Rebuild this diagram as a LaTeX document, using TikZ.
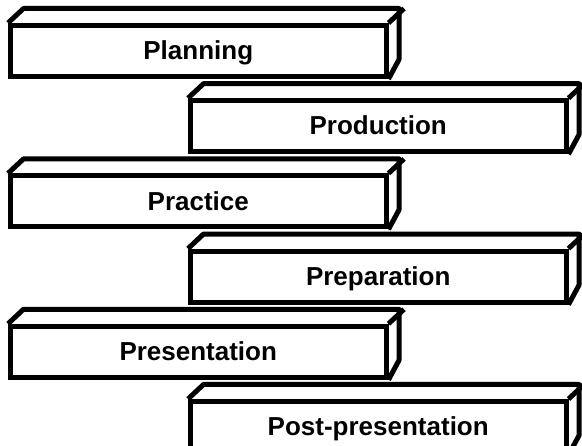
\documentclass[tikz,border=0pt]{standalone}
\usepackage{fontspec}
\setmainfont{Liberation Sans}
\begin{document}
\begin{tikzpicture}[x=1pt, y=-1pt, line width=5pt, line join=miter,
	font=\fontsize{26}{30}\selectfont\bfseries,
	slab/.style={draw, fill=white, minimum width=375.5pt, minimum height=51pt,
		inner sep=0pt, text height=17.5pt, text depth=0pt},
	rim/.style={line join=round}]
	\clip (0,0) rectangle (582,446);
	\foreach \lbl/\nm [count=\i from 0] in {Planning/plan, Production/prod, Practice/prac, Preparation/prep, Presentation/pres, Post-presentation/post} {
		\pgfmathsetmacro{\xc}{mod(\i,2)==1 ? 378.25 : 198.25}
		\pgfmathsetmacro{\yc}{51 + 75.2*\i}
		\node[slab] (\nm) at (\xc,\yc) {\lbl};
		\draw[rim] (\nm.north west) -- ++(15.5,-14.5) -- ++(375.5,0) -- ++(0,51) -- (\nm.south east);
		\draw[rim] (\nm.north east) -- ++(15.5,-14.5);
	}
\end{tikzpicture}
\end{document}
